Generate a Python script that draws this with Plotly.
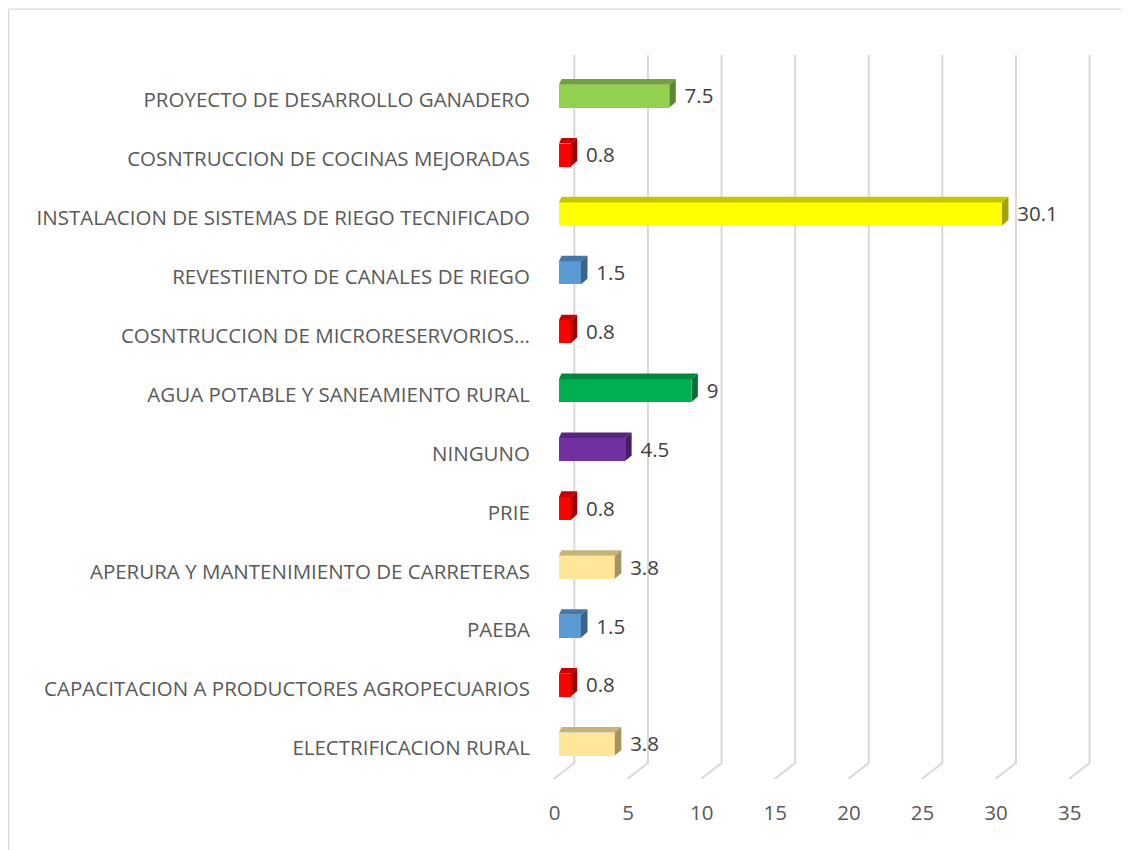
import plotly.graph_objects as go

# categories from bottom to top, as drawn on the y axis
categories = [
    "ELECTRIFICACION RURAL",
    "CAPACITACION A PRODUCTORES AGROPECUARIOS",
    "PAEBA",
    "APERURA Y MANTENIMIENTO DE CARRETERAS",
    "PRIE",
    "NINGUNO",
    "AGUA POTABLE Y SANEAMIENTO RURAL",
    "COSNTRUCCION DE MICRORESERVORIOS…",
    "REVESTIIENTO DE CANALES DE RIEGO",
    "INSTALACION DE SISTEMAS DE RIEGO TECNIFICADO",
    "COSNTRUCCION DE COCINAS MEJORADAS",
    "PROYECTO DE DESARROLLO GANADERO",
]
values = [3.8, 0.8, 1.5, 3.8, 0.8, 4.5, 9, 0.8, 1.5, 30.1, 0.8, 7.5]
value_labels = ["3.8", "0.8", "1.5", "3.8", "0.8", "4.5", "9", "0.8", "1.5", "30.1", "0.8", "7.5"]
bar_colors = ["#FFE699", "#FF0000", "#5B9BD5", "#FFE699", "#FF0000", "#7030A0",
              "#00B050", "#FF0000", "#5B9BD5", "#FFFF00", "#FF0000", "#92D050"]
x_ticks = [0, 5, 10, 15, 20, 25, 30, 35]

# 3d look (in data units)
base = 0.3        # front face starts a bit right of the axis zero
depth_x = 0.44    # bar depth, horizontal
depth_y = 0.095   # bar depth, vertical
bar_h = 0.39      # front face height
lift = 0.068      # front face centre above the category tick
wall_x = 1.35     # gridlines sit on the back wall
floor_y = -0.255  # back edge of the floor
y_min, y_max = -0.526, 11.766


def shade(hex_color, k):
    r, g, b = (int(hex_color[i:i + 2], 16) for i in (1, 3, 5))
    return "rgb(%d,%d,%d)" % (r * k, g * k, b * k)


fig = go.Figure()

# gridlines on back wall + floor (kept below the bars)
grid_shapes = []
for t in x_ticks:
    grid_shapes.append(dict(type="path", xref="x", yref="y", layer="below",
                            path="M %f,%f L %f,%f L %f,%f" % (t + wall_x, y_max, t + wall_x, floor_y, t - 0.05, y_min),
                            line=dict(color="#D9D9D9", width=2)))

# chart frame: only the top and left edges are inside the picture
frame = [
    dict(type="line", xref="paper", yref="paper", x0=-0.979, x1=1.1, y0=1.0635, y1=1.0635,
         line=dict(color="#D9D9D9", width=1.3), layer="below"),
    dict(type="line", xref="paper", yref="paper", x0=-0.979, x1=-0.979, y0=-0.2, y1=1.0635,
         line=dict(color="#D9D9D9", width=1.3), layer="below"),
]

# front faces
fig.add_trace(go.Bar(
    x=values, y=[i + lift for i in range(len(values))], base=base,
    orientation="h", width=bar_h, marker=dict(color=bar_colors, line=dict(width=0)),
    showlegend=False))

# top and side faces
for i, v in enumerate(values):
    y0 = i + lift - bar_h / 2
    y1 = i + lift + bar_h / 2
    x0 = base
    x1 = base + v
    fig.add_trace(go.Scatter(
        x=[x0, x1, x1 + depth_x, x0 + depth_x * 0.4, x0],
        y=[y1, y1, y1 + depth_y, y1 + depth_y, y1],
        fill="toself", fillcolor=shade(bar_colors[i], 0.78), mode="none",
        hoverinfo="skip", showlegend=False))
    fig.add_trace(go.Scatter(
        x=[x1, x1 + depth_x, x1 + depth_x, x1, x1],
        y=[y0, y0 + depth_y, y1 + depth_y, y1, y0],
        fill="toself", fillcolor=shade(bar_colors[i], 0.64), mode="none",
        hoverinfo="skip", showlegend=False))

# data labels
fig.add_trace(go.Scatter(
    x=[base + v + depth_x + 0.6 for v in values],
    y=[i + 0.03 for i in range(len(values))],
    text=value_labels, mode="text", textposition="middle right",
    textfont=dict(size=20.5, color="#404040"),
    hoverinfo="skip", showlegend=False))

# page body has an 8px margin, so the figure is 8px smaller and the margins shifted
fig.update_layout(
    width=1121, height=842,
    margin=dict(l=538, r=34, t=47, b=71),
    plot_bgcolor="white", paper_bgcolor="white",
    font=dict(family="Open Sans", size=20.5, color="#595959"),
    bargap=0,
    shapes=grid_shapes + frame,
)
fig.update_xaxes(range=[-0.577, 36.72], tickvals=x_ticks, showgrid=False,
                 zeroline=False, showline=False, ticks="outside", ticklen=15,
                 tickcolor="rgba(0,0,0,0)")
fig.update_yaxes(range=[y_min, y_max], tickvals=list(range(len(categories))),
                 ticktext=categories, showgrid=False, zeroline=False,
                 showline=False, ticks="outside", ticklen=11,
                 tickcolor="rgba(0,0,0,0)")

fig.write_html("out.html")
